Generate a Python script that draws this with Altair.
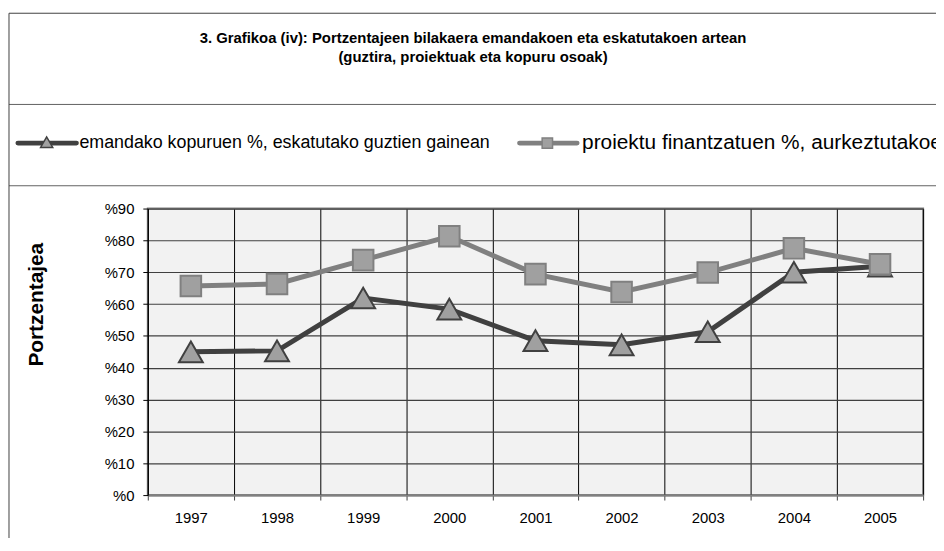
import altair as alt
import pandas as pd

years = ["1997", "1998", "1999", "2000", "2001", "2002", "2003", "2004", "2005"]
granted_pct = [45.0, 45.3, 61.9, 58.4, 48.5, 47.2, 51.3, 70.0, 71.9]
funded_pct = [65.7, 66.3, 73.8, 81.3, 69.4, 63.8, 69.9, 77.5, 72.5]
y_ticks = [0, 10, 20, 30, 40, 50, 60, 70, 80, 90]
series_names = [
    "emandako kopuruen %, eskatutako guztien gainean",
    "proiektu finantzatuen %, aurkeztutakoen gainean",
]
title_lines = [
    "3. Grafikoa (iv): Portzentajeen bilakaera emandakoen eta eskatutakoen artean",
    "(guztira, proiektuak eta kopuru osoak)",
]
y_title = "Portzentajea"

FONT = "Liberation Sans, Arial, sans-serif"
DARK = "#404040"
MID = "#808080"
MARKER_FILL = "#a0a0a0"

df = pd.DataFrame({
    "year": years * 2,
    "value": granted_pct + funded_pct,
    "series": [series_names[0]] * len(years) + [series_names[1]] * len(years),
})

x_enc = alt.X(
    "year:O",
    scale=alt.Scale(type="band", domain=years, paddingInner=0, paddingOuter=0),
    axis=alt.Axis(
        title=None, labelAngle=0, tickBand="extent", grid=True,
        gridColor="#000000", gridWidth=1, domainColor=MID, domainWidth=2,
        tickColor=DARK, tickSize=5, labelPadding=11, labelFontSize=15,
        labelFont=FONT, labelColor="#000000",
    ),
)
y_enc = alt.Y(
    "value:Q",
    scale=alt.Scale(domain=[0, 90], nice=False),
    axis=alt.Axis(
        title=None, values=y_ticks, labelExpr="'%' + datum.value", grid=True,
        gridColor=DARK, gridWidth=1.2, domainColor="#000000", domainWidth=1,
        tickColor="#000000", tickSize=5, labelPadding=9, labelFontSize=15,
        labelFont=FONT, labelColor="#000000",
    ),
)

base = alt.Chart(df)
s1 = base.transform_filter(alt.datum.series == series_names[0])
s2 = base.transform_filter(alt.datum.series == series_names[1])

line1 = s1.mark_line(color=DARK, strokeWidth=5).encode(x=x_enc, y=y_enc)
pts1 = s1.mark_point(shape="triangle-up", filled=True, fill=MARKER_FILL, stroke=DARK,
                     strokeWidth=2, size=580, opacity=1).encode(x=x_enc, y=y_enc)
line2 = s2.mark_line(color=MID, strokeWidth=5).encode(x=x_enc, y=y_enc)
pts2 = s2.mark_point(shape="square", filled=True, fill=MARKER_FILL, stroke=MID,
                     strokeWidth=2, size=430, opacity=1).encode(x=x_enc, y=y_enc)

one = pd.DataFrame({"k": [0]})


def hrule(y, x1, x2, color=DARK, width=1):
    return alt.Chart(one).mark_rule(color=color, strokeWidth=width).encode(
        x=alt.value(x1), x2=alt.value(x2), y=alt.value(y))


def vrule(x, y1, y2, color=DARK, width=1):
    return alt.Chart(one).mark_rule(color=color, strokeWidth=width).encode(
        x=alt.value(x), y=alt.value(y1), y2=alt.value(y2))


def label(text, x, y, size, weight="normal", align="left", angle=0):
    return alt.Chart(pd.DataFrame({"t": [text]})).mark_text(
        font=FONT, fontSize=size, fontWeight=weight, align=align,
        baseline="middle", angle=angle, color="#000000",
    ).encode(text="t:N", x=alt.value(x), y=alt.value(y))


frame = [
    hrule(-197, -140, 800),
    hrule(-105, -140, 800, color="#606060"),
    hrule(-23, -140, 800, color="#606060"),
    vrule(-140, -197, 345),
]

titles = [
    label(title_lines[0], 328, -172, 15, weight="bold", align="center"),
    label(title_lines[1], 328, -153, 15, weight="bold", align="center"),
    label(y_title, -112, 97, 21, weight="bold", align="center", angle=270),
]

leg_y = -66
legend = [
    alt.Chart(one).mark_rule(color=DARK, strokeWidth=5, strokeCap="round").encode(
        x=alt.value(-131), x2=alt.value(-72), y=alt.value(leg_y)),
    alt.Chart(one).mark_point(shape="triangle-up", filled=True, fill=MARKER_FILL,
                              stroke=DARK, strokeWidth=1.5, size=150, opacity=1).encode(
        x=alt.value(-102), y=alt.value(leg_y - 1)),
    label(series_names[0], -69, leg_y, 18),
    alt.Chart(one).mark_rule(color=MID, strokeWidth=5, strokeCap="round").encode(
        x=alt.value(375), x2=alt.value(433), y=alt.value(leg_y)),
    alt.Chart(one).mark_point(shape="square", filled=True, fill=MARKER_FILL,
                              stroke=MID, strokeWidth=1.5, size=110, opacity=1).encode(
        x=alt.value(403), y=alt.value(leg_y)),
    label(series_names[1], 438, leg_y, 21),
]

chart = alt.layer(
    line1, pts1, line2, pts2, *frame, *titles, *legend
).properties(
    width=782, height=289,
    autosize=alt.AutoSizeParams(type="none"),
    padding={"left": 141, "top": 200, "right": 13, "bottom": 41},
    background="#ffffff",
).configure_view(
    fill="#f2f2f2", stroke=MID, strokeWidth=2,
)

chart.save("out.html", embed_options={"renderer": "svg", "actions": False})
